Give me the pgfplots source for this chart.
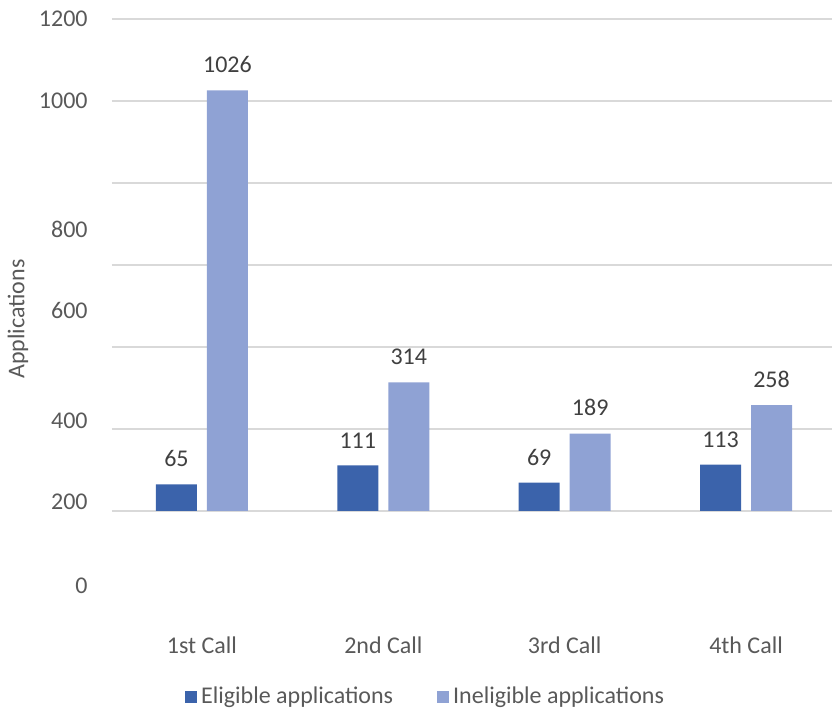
\documentclass[border=0pt]{standalone}
\usepackage{pgfplots}
\pgfplotsset{compat=1.18}
\usepackage{fontspec}
\setmainfont{Carlito}
\definecolor{elig}{RGB}{59,99,171}
\definecolor{inel}{RGB}{143,162,212}
\definecolor{gridc}{RGB}{217,217,217}
\definecolor{tickc}{RGB}{89,89,89}
\definecolor{labc}{RGB}{64,64,64}
\begin{document}
\fontsize{12}{14}\selectfont
\begin{tikzpicture}
\begin{axis}[
  scale only axis,
  width=360pt, height=287pt,
  xmin=-0.496, xmax=3.474,
  ymin=-200, ymax=1200,
  ybar,
  /pgf/number format/assume math mode=true,
  /pgf/number format/1000 sep={},
  axis line style={draw=none},
  major tick length=0pt,
  xtick={0,1,2,3},
  xticklabels={1st Call,2nd Call,3rd Call,4th Call},
  xticklabel style={anchor=center, yshift=-26pt, text=tickc, font=\fontsize{12}{14}\selectfont},
  ytick={0,200,400,600,800,1000,1200},
  yticklabels={},
  ymajorgrids,
  grid style={gridc, line width=0.8pt},
  extra y ticks={-183,22,220,488,688,1000,1200},
  extra y tick labels={0,200,400,600,800,1000,1200},
  extra y tick style={grid=none, yticklabel style={anchor=east, inner sep=0pt, xshift=-12pt, text=tickc, font=\fontsize{12}{14}\selectfont}},
  ylabel={Applications},
  ylabel style={at={(axis description cs:-0.1306,0.477)}, anchor=center, text=tickc, font=\fontsize{12}{14}\selectfont},
  nodes near coords,
  every node near coord/.append style={anchor=south, inner sep=0pt, yshift=8.5pt, text=labc, font=\fontsize{12}{14}\selectfont},
  legend style={at={(axis description cs:0.437,-0.181)}, anchor=center, draw=none, fill=none, legend columns=2, font=\fontsize{12}{14}\selectfont, text=tickc, /tikz/every even column/.append style={column sep=20pt}},
  legend image code/.code={\fill[#1] (0pt,-3pt) rectangle (6pt,3pt);},
]
\addplot[fill=elig, draw=none, bar width=20.5pt, bar shift=-12.75pt] coordinates {(0,65) (1,111) (2,69) (3,113)};
\addlegendentry{Eligible applications}
\addplot[fill=inel, draw=none, bar width=20.5pt, bar shift=12.75pt] coordinates {(0,1026) (1,314) (2,189) (3,258)};
\addlegendentry{Ineligible applications}
\end{axis}
\pgfresetboundingbox
\path (current axis.south west) ++(-56pt,-59.5pt) rectangle ([shift={(0pt,9.5pt)}]current axis.north east);
\end{tikzpicture}
\end{document}
